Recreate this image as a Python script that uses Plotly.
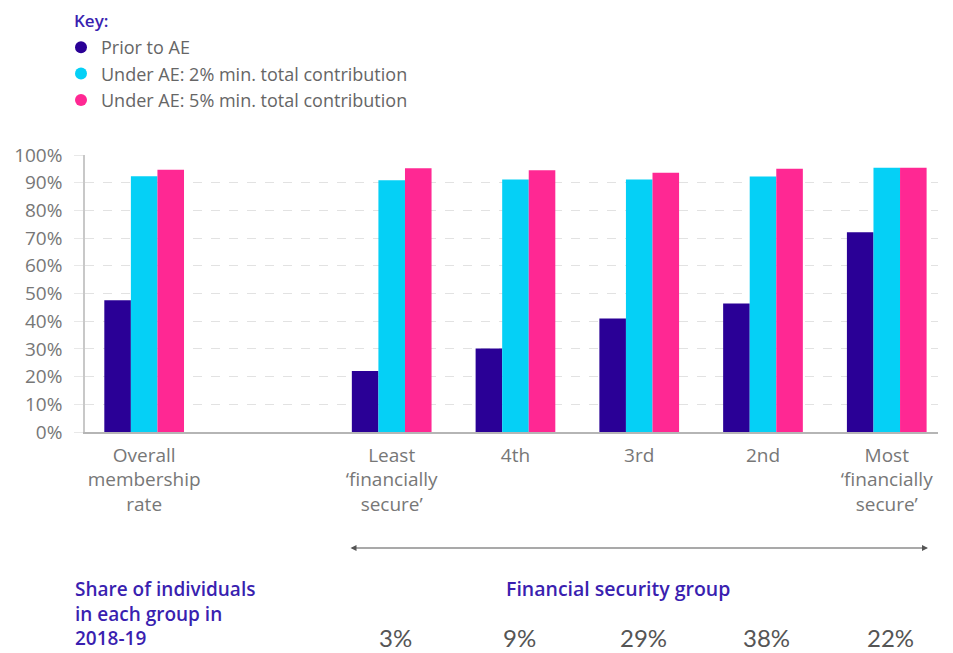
import plotly.graph_objects as go

categories = ["Overall<br>membership<br>rate", " ", "Least<br>‘financially<br>secure’", "4th", "3rd", "2nd", "Most<br>‘financially<br>secure’"]
series_names = ["Prior to AE", "Under AE: 2% min. total contribution", "Under AE: 5% min. total contribution"]
prior = [47.6, None, 22.0, 30.1, 41.0, 46.4, 72.1]
ae2 = [92.3, None, 90.9, 91.2, 91.2, 92.2, 95.4]
ae5 = [94.7, None, 95.2, 94.5, 93.6, 95.0, 95.4]
colors = ["#2A0096", "#05D0F6", "#FF2893"]
share_groups = categories[2:]
share_values = ["3%", "9%", "29%", "38%", "22%"]
y_ticks = list(range(0, 101, 10))

FONT = "'Open Sans', Lato, sans-serif"
GRAY = "#777777"
PURPLE = "#3A1FB0"

# the page body adds an 8px offset; work in reference-pixel coordinates
OFF = 8
W, H = 953 - OFF, 653 - OFF
L, T = 85 - OFF, 155 - OFF
PW, PH = 853, 277
B = H - T - PH


def px_x(p):
    return (p - OFF - L) / PW


def px_y(p):
    return (H - B - (p - OFF)) / PH


fig = go.Figure()
for name, vals, col in zip(series_names, [prior, ae2, ae5], colors):
    fig.add_trace(go.Bar(x=categories, y=vals, name=name, marker=dict(color=col, line=dict(width=0)),
                         showlegend=False))
for name, col in zip(series_names, colors):
    fig.add_trace(go.Scatter(x=[None], y=[None], mode="markers", name=name,
                             marker=dict(color=col, size=11, symbol="circle")))

for g, v in zip(share_groups, share_values):
    fig.add_annotation(x=g, xref="x", y=px_y(637), yref="paper", text=v, showarrow=False, xshift=4,
                       font=dict(size=24, color="#555555", family="Lato, sans-serif"), yanchor="middle")

fig.add_annotation(xref="x domain", yref="y domain", axref="x domain", ayref="y domain",
                   x=px_x(928), y=px_y(548), ax=px_x(349), ay=px_y(548), text="", showarrow=True,
                   arrowhead=2, startarrowhead=2, arrowside="end+start", arrowsize=1,
                   arrowwidth=1.2, arrowcolor="#555555")
fig.add_annotation(x=px_x(618), xref="paper", y=px_y(588), yref="paper",
                   text="Financial security group", showarrow=False,
                   font=dict(size=19.5, color=PURPLE, family=FONT, weight=600), xanchor="center", yanchor="middle")
fig.add_annotation(x=px_x(73), xref="paper", y=px_y(574), yref="paper",
                   text="Share of individuals<br>in each group in<br>2018-19", showarrow=False, align="left",
                   font=dict(size=19, color=PURPLE, family=FONT, weight=600), xanchor="left", yanchor="top")
fig.add_annotation(x=px_x(73), xref="paper", y=px_y(OFF), yref="paper",
                   text="Key:", showarrow=False, align="left", borderpad=0,
                   font=dict(size=17, color=PURPLE, family=FONT, weight=600), xanchor="left", yanchor="top")

fig.update_layout(
    width=W, height=H,
    margin=dict(l=L, r=W - L - PW, t=T, b=B, autoexpand=False),
    paper_bgcolor="white", plot_bgcolor="white",
    barmode="group", bargap=0.356, bargroupgap=0,
    font=dict(family=FONT, color=GRAY),
    legend=dict(x=px_x(61), y=px_y(29), xanchor="left", yanchor="top",
                font=dict(size=18, color="#666666", family=FONT), itemsizing="constant",
                bgcolor="rgba(0,0,0,0)"),
    xaxis=dict(range=[-0.478, 6.414], showgrid=False, showline=True, linecolor="#b5b5b5", linewidth=1.5,
               automargin=False, ticks="", tickfont=dict(size=19, color=GRAY, family=FONT),
               ticklabelstandoff=5),
    yaxis=dict(range=[0, 100], tickvals=y_ticks, ticktext=[f"{t}%" for t in y_ticks],
               showgrid=True, gridcolor="#e2e2e2", griddash="dash", gridwidth=1,
               showline=True, linecolor="#c8c8c8", linewidth=1.5, zeroline=False, automargin=False,
               ticks="outside", ticklen=9, tickwidth=1, tickcolor="#e8e8e8",
               tickfont=dict(size=19, color=GRAY, family=FONT), ticklabelstandoff=8),
)

fig.write_html("out.html")
